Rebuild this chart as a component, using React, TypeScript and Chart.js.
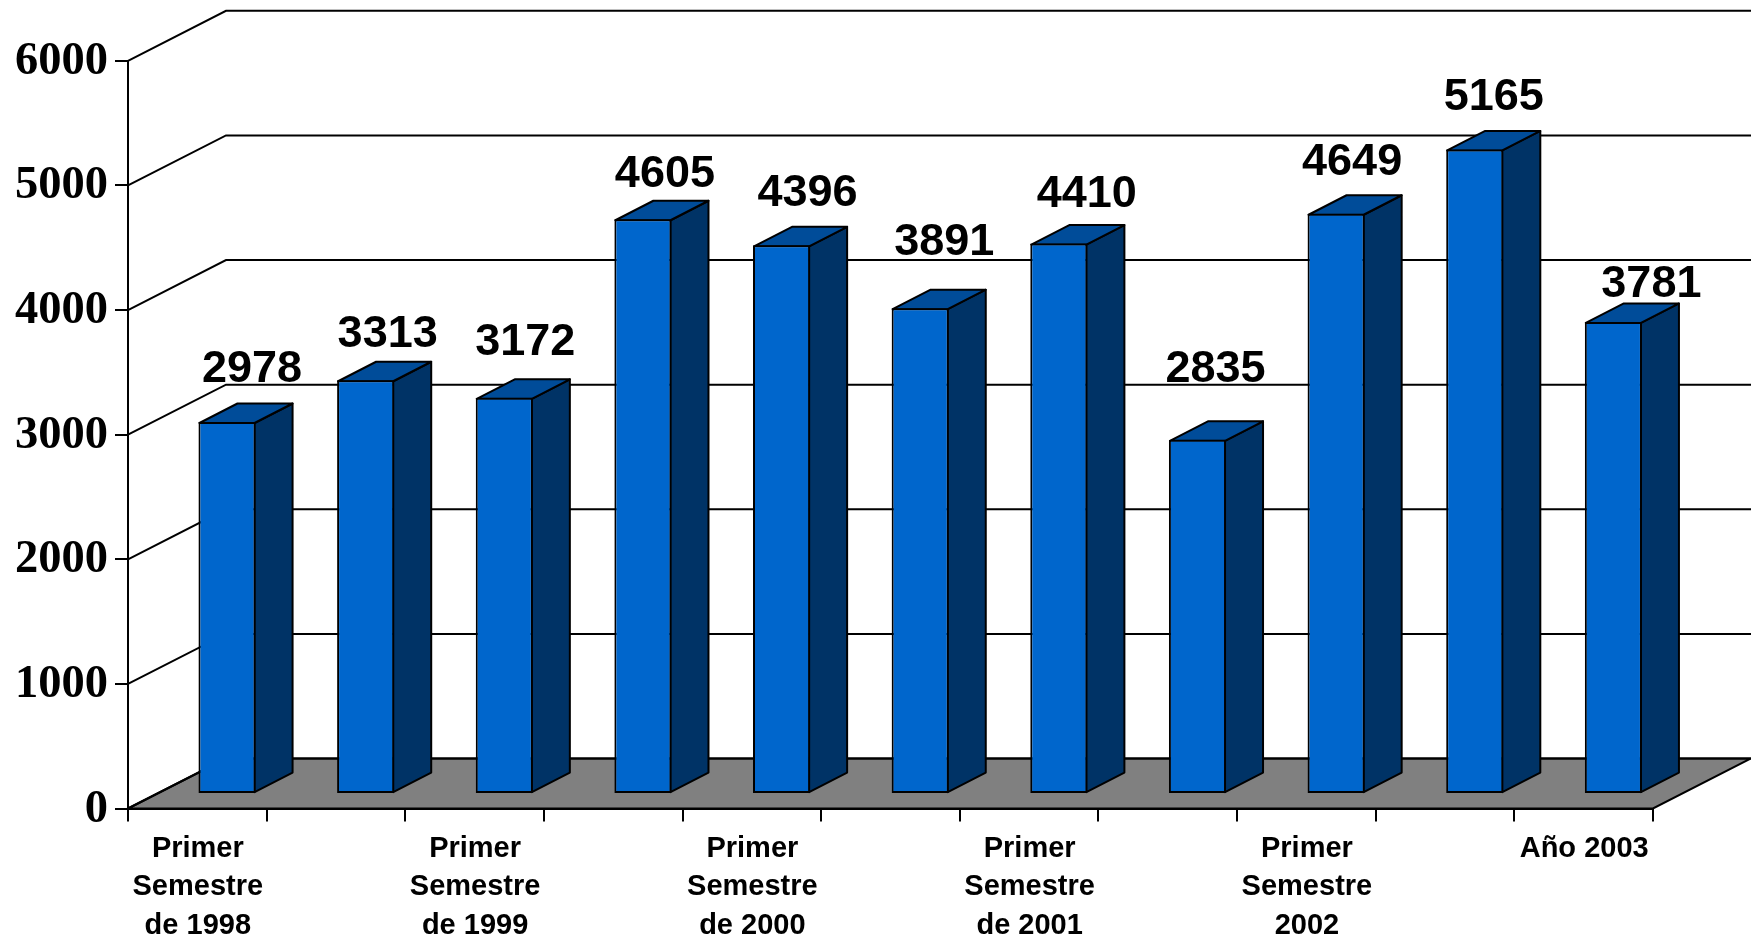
import React, { useEffect, useRef } from "react";
import { Chart, registerables } from "chart.js";

Chart.register(...registerables);

const categories: (string | string[])[] = [
  ["Primer", "Semestre", "de 1998"], "",
  ["Primer", "Semestre", "de 1999"], "",
  ["Primer", "Semestre", "de 2000"], "",
  ["Primer", "Semestre", "de 2001"], "",
  ["Primer", "Semestre", "2002"], "",
  "Año 2003",
];
const values = [2978, 3313, 3172, 4605, 4396, 3891, 4410, 2835, 4649, 5165, 3781];
const yTickStep = 1000;
const yMax = 6000;

// Hand-placed data label nudges of the original chart, relative to the bar's front top-centre.
const labelNudgeX = [25, 22, 21, 22, 26, 24, 28, 18, 16, 19, 38];
const labelNudgeY = [52, 46, 55, 45, 52, 66, 49, 70, 51, 52, 37];

const FRONT = "#0066CC";
const TOP = "#004C99";
const SIDE = "#003366";
const FLOOR = "#808080";
const INK = "#000000";

const WALL_DX = 98;
const WALL_DY = 50;
const BAR_SHIFT_X = 29.7;
const BAR_SHIFT_Y = 15.4;
const BAR_DX = 38;
const BAR_DY = 19.5;

const threeD = {
  id: "threeD",
  beforeDraw(chart: any) {
    const { ctx, scales } = chart;
    const x0 = scales.x.left;
    const x1 = scales.x.right;
    const y0 = scales.y.getPixelForValue(0);
    ctx.save();
    ctx.fillStyle = "#ffffff";
    ctx.fillRect(0, 0, chart.width, chart.height);
    ctx.beginPath();
    ctx.moveTo(x0, y0);
    ctx.lineTo(x0 + WALL_DX, y0 - WALL_DY);
    ctx.lineTo(x1 + WALL_DX, y0 - WALL_DY);
    ctx.lineTo(x1, y0);
    ctx.closePath();
    ctx.fillStyle = FLOOR;
    ctx.fill();
    ctx.strokeStyle = INK;
    ctx.lineWidth = 2;
    ctx.stroke();
    // the tick at zero, kept out of the scale's grid so the bars rest on the exact baseline
    ctx.beginPath();
    ctx.moveTo(x0 - 13, Math.round(y0));
    ctx.lineTo(x0, Math.round(y0));
    ctx.stroke();
    for (const t of scales.y.ticks) {
      const y = scales.y.getPixelForValue(t.value);
      ctx.beginPath();
      ctx.moveTo(x0, y);
      ctx.lineTo(x0 + WALL_DX, y - WALL_DY);
      ctx.lineTo(chart.width, y - WALL_DY);
      ctx.stroke();
    }
    ctx.restore();
  },
  beforeDatasetsDraw(chart: any) {
    const { ctx } = chart;
    ctx.save();
    ctx.translate(BAR_SHIFT_X, -BAR_SHIFT_Y);
    ctx.lineWidth = 2;
    ctx.strokeStyle = INK;
    ctx.lineJoin = "round";
    for (const el of chart.getDatasetMeta(0).data) {
      const { x, y, base, width } = el.getProps(["x", "y", "base", "width"], true);
      const r = x + width / 2 - 1;
      const l = x - width / 2 + 1;
      const top = y + 1;
      ctx.beginPath();
      ctx.moveTo(r, top);
      ctx.lineTo(r + BAR_DX, top - BAR_DY);
      ctx.lineTo(r + BAR_DX, base - 1 - BAR_DY);
      ctx.lineTo(r, base - 1);
      ctx.closePath();
      ctx.fillStyle = SIDE;
      ctx.fill();
      ctx.stroke();
      ctx.beginPath();
      ctx.moveTo(l, top);
      ctx.lineTo(l + BAR_DX, top - BAR_DY);
      ctx.lineTo(r + BAR_DX, top - BAR_DY);
      ctx.lineTo(r, top);
      ctx.closePath();
      ctx.fillStyle = TOP;
      ctx.fill();
      ctx.stroke();
    }
  },
  afterDatasetsDraw(chart: any) {
    const { ctx } = chart;
    ctx.restore();
    ctx.save();
    ctx.font = "bold 45px 'Liberation Sans'";
    ctx.fillStyle = INK;
    ctx.textAlign = "center";
    ctx.textBaseline = "middle";
    chart.getDatasetMeta(0).data.forEach((el: any, i: number) => {
      const { x, y } = el.getProps(["x", "y"], true);
      ctx.fillText(
        String(values[i]),
        x + BAR_SHIFT_X + labelNudgeX[i],
        y - BAR_SHIFT_Y - labelNudgeY[i]
      );
    });
    ctx.restore();
  },
};

export default function App() {
  const ref = useRef<HTMLCanvasElement>(null);
  useEffect(() => {
    document.body.style.margin = "0";
    document.body.style.background = "#ffffff";
    const chart = new Chart(ref.current as HTMLCanvasElement, {
      type: "bar",
      data: {
        labels: categories as any,
        datasets: [
          {
            data: values,
            backgroundColor: FRONT,
            borderColor: INK,
            borderWidth: 2,
            borderSkipped: false,
            categoryPercentage: 1,
            barPercentage: 0.412,
            clip: false as any,
          },
        ],
      },
      options: {
        responsive: false,
        animation: false,
        layout: { padding: { left: 0, right: 98, top: 60.8, bottom: 0 } },
        plugins: { legend: { display: false }, tooltip: { enabled: false }, title: { display: false } },
        scales: {
          x: {
            type: "category",
            afterFit(scale: any) {
              scale.height = 130.5;
            },
            grid: { drawOnChartArea: false, drawTicks: true, tickLength: 13, color: INK, lineWidth: 2 },
            border: { display: true, color: INK, width: 2 },
            ticks: {
              autoSkip: false,
              maxRotation: 0,
              minRotation: 0,
              padding: 8,
              labelOffset: 0.5,
              color: INK,
              font: { family: "'Liberation Sans'", size: 29, weight: "bold", lineHeight: 1.33 },
            },
          },
          y: {
            type: "linear",
            min: 0,
            max: yMax,
            afterFit(scale: any) {
              scale.width = 128;
            },
            grid: {
              drawOnChartArea: false,
              drawTicks: true,
              tickLength: 13,
              color: INK,
              lineWidth: (c: any) => (c.tick && c.tick.value === 0 ? 0 : 2),
            },
            border: { display: true, color: INK, width: 2 },
            ticks: {
              stepSize: yTickStep,
              padding: 7,
              labelOffset: 1,
              color: INK,
              callback: (v: any) => String(v),
              font: { family: "'Liberation Serif'", size: 46.5, weight: "bold" },
            },
          },
        },
      },
      plugins: [threeD],
    } as any);
    return () => chart.destroy();
  }, []);
  return (
    <canvas
      ref={ref}
      width={1751}
      height={939}
      style={{ display: "block", width: 1751, height: 939 }}
    />
  );
}
